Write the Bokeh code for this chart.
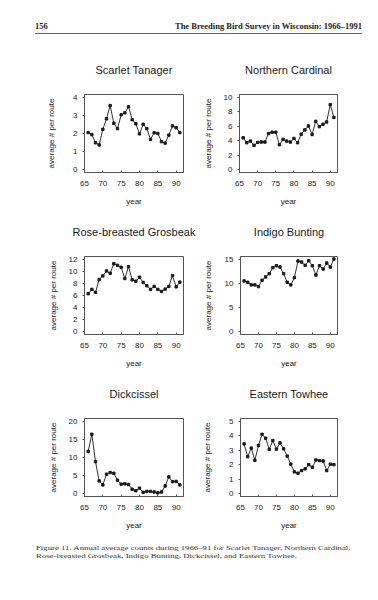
from bokeh.plotting import figure
from bokeh.layouts import column, row
from bokeh.models import Div, Range1d, FixedTicker
from bokeh.embed import file_html
from bokeh.resources import INLINE

years = list(range(66, 92))
x_ticks = [65, 70, 75, 80, 85, 90]

scarlet_tanager = [2.06, 1.95, 1.50, 1.38, 2.24, 2.82, 3.55, 2.57, 2.28, 3.04, 3.15, 3.49, 2.77,
                   2.55, 1.99, 2.52, 2.28, 1.68, 2.05, 2.01, 1.56, 1.48, 1.92, 2.43, 2.33, 2.06]
northern_cardinal = [4.43, 3.76, 3.98, 3.39, 3.80, 3.85, 3.85, 5.02, 5.20, 5.20, 3.48, 4.21, 3.98,
                     3.85, 4.34, 3.76, 4.93, 5.52, 6.06, 4.89, 6.70, 5.97, 6.29, 6.61, 9.00, 7.24]
rose_breasted_grosbeak = [6.33, 7.04, 6.55, 8.67, 9.27, 10.09, 9.71, 11.29, 11.02, 10.69, 8.84, 10.80,
                          8.62, 8.40, 9.06, 8.18, 7.64, 7.04, 7.53, 7.04, 6.71, 7.09, 7.53, 9.33, 7.47, 8.24]
indigo_bunting = [10.55, 10.27, 9.73, 9.73, 9.38, 10.68, 11.37, 12.05, 13.29, 13.70, 13.42, 12.05, 10.27,
                  9.73, 11.23, 14.66, 14.45, 13.77, 14.73, 13.70, 11.78, 13.70, 13.01, 14.25, 13.42, 15.07]
dickcissel = [11.7, 16.45, 8.9, 3.6, 2.5, 5.45, 5.9, 5.7, 3.8, 2.7, 2.8, 2.6, 1.3,
              0.9, 1.6, 0.45, 0.7, 0.7, 0.55, 0.3, 0.55, 2.2, 4.7, 3.4, 3.45, 2.5]
eastern_towhee = [3.45, 2.57, 3.16, 2.32, 3.34, 4.11, 3.84, 3.07, 3.68, 3.09, 3.52, 3.11, 2.61,
                  2.05, 1.52, 1.43, 1.61, 1.73, 2.02, 1.84, 2.34, 2.30, 2.27, 1.61, 2.05, 2.02]

titles = ["Scarlet Tanager", "Northern Cardinal", "Rose-breasted Grosbeak",
          "Indigo Bunting", "Dickcissel", "Eastern Towhee"]
series = [scarlet_tanager, northern_cardinal, rose_breasted_grosbeak,
          indigo_bunting, dickcissel, eastern_towhee]
y_max = [4, 10, 12, 15, 20, 5]
y_step = [1, 2, 2, 5, 5, 1]
ylabel_standoff = [14, 8, 8, 9, 8, 14]

SANS = "Liberation Sans"
SERIF = "Liberation Serif"
INK = "#1a1a1a"
X0, X1 = 65, 92


def panel(i):
    left = (i % 2 == 0)
    top = y_max[i]
    p = figure(
        output_backend="svg", toolbar_location=None,
        width=200 if left else 170, height=162,
        min_border_left=84 if left else 39,
        min_border_right=17 if left else 33,
        min_border_top=48, min_border_bottom=35,
        x_range=Range1d(X0, X1),
        y_range=Range1d(-0.035 * top, top * 1.04),
        background_fill_color="white", border_fill_color="white",
        outline_line_color="#555555", outline_line_width=1,
    )
    p.title.text = titles[i]
    p.title.align = "center"
    p.title.vertical_align = "top"
    p.title.standoff = 33
    p.title.text_font = SANS
    p.title.text_font_size = "11px"
    p.title.text_font_style = "normal"
    p.title.text_color = INK
    p.grid.visible = False
    p.xaxis.ticker = FixedTicker(ticks=x_ticks)
    p.yaxis.ticker = FixedTicker(ticks=list(range(0, top + 1, y_step[i])))
    for ax in (p.xaxis[0], p.yaxis[0]):
        ax.axis_line_color = "#555555"
        ax.major_tick_line_color = "#555555"
        ax.minor_tick_line_color = None
        ax.major_label_text_font = SANS
        ax.major_label_text_font_size = "8px"
        ax.major_label_text_color = INK
        ax.axis_label_text_font = SANS
        ax.axis_label_text_font_size = "8px"
        ax.axis_label_text_font_style = "normal"
        ax.axis_label_text_color = INK
    p.xaxis.major_tick_in = 2
    p.xaxis.major_tick_out = 0
    p.xaxis.major_label_standoff = 8
    p.xaxis.axis_label = "year"
    p.xaxis.axis_label_standoff = 8
    p.yaxis.major_tick_in = 0
    p.yaxis.major_tick_out = 2
    p.yaxis.major_label_standoff = 5
    p.yaxis.axis_label = "average # per route"
    p.yaxis.axis_label_standoff = ylabel_standoff[i]
    p.line(years, series[i], line_color=INK, line_width=0.9)
    p.scatter(years, series[i], marker="square", size=2.4, fill_color=INK, line_color=INK)
    return p


header = Div(
    width=370, height=36,
    text=(
        f'<div style="position:absolute;left:30px;top:16px;width:327px;'
        f'font-family:\'{SERIF}\';font-size:8.5px;font-weight:bold;color:#222;'
        f'display:flex;justify-content:space-between;border-bottom:1px solid #666;'
        f'padding-bottom:2px;line-height:10px;white-space:nowrap">'
        f'<span>156</span><span>The Breeding Bird Survey in Wisconsin: 1966&ndash;1991</span></div>'
    ),
)

caption = Div(
    width=370, height=40,
    text=(
        f'<div style="position:absolute;left:31px;top:8px;transform:scaleX(1.25);transform-origin:0 0;'
        f'font-family:\'{SERIF}\';font-size:7px;color:#333;line-height:7.6px;white-space:nowrap">'
        f'Figure 11. Annual average counts during 1966&ndash;91 for Scarlet Tanager, Northern Cardinal,<br>'
        f'Rose-breasted Grosbeak, Indigo Bunting, Dickcissel, and Eastern Towhee.</div>'
    ),
)

panels = [panel(i) for i in range(6)]
layout = column(
    header,
    row(panels[0], panels[1]),
    row(panels[2], panels[3]),
    row(panels[4], panels[5]),
    caption,
)

open("out.html", "w").write(file_html(layout, INLINE))
